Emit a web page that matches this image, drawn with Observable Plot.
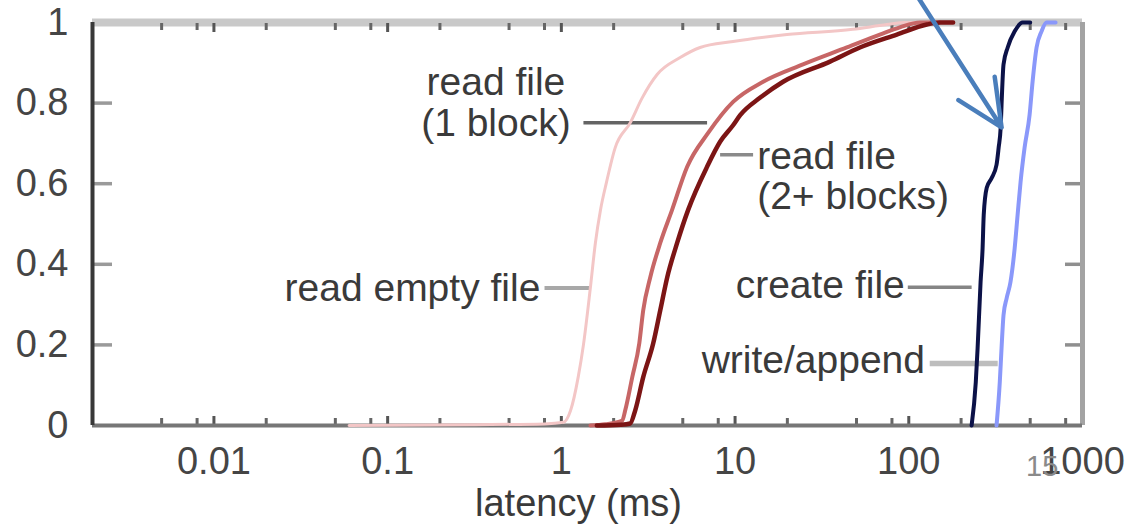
<!DOCTYPE html>
<html><head><meta charset="utf-8">
<script src="https://cdn.jsdelivr.net/npm/d3@7"></script>
<script src="https://cdn.jsdelivr.net/npm/@observablehq/plot@0.6"></script>
<style>
body{margin:0;background:#fff;}
#wrap{position:relative;width:1136px;height:525px;overflow:hidden;}
#page{position:absolute;left:1026px;top:452px;font:29px "Liberation Sans",Arial,sans-serif;color:#8a8a8a;line-height:1;}
</style></head><body><div id="wrap"><div id="chart"></div><div id="page">15</div></div>
<script>
// ---- data ----
const readEmptyLat = [0.06, 0.3, 0.8, 1.03, 1.13, 1.25, 1.34, 1.47, 1.57, 1.68, 1.82, 2.04, 2.49, 2.92, 3.56, 4.83, 6.29, 9.74, 19.9, 47.6, 74.8, 95, 110];
const readEmptyCdf = [0, 0.002, 0.004, 0.008, 0.037, 0.12, 0.20, 0.343, 0.453, 0.535, 0.604, 0.689, 0.751, 0.813, 0.871, 0.913, 0.938, 0.953, 0.970, 0.983, 0.995, 1, 1];

const read1Lat = [1.47, 1.79, 2.24, 2.33, 2.56, 2.81, 2.96, 3.25, 3.71, 4.34, 5.30, 7.00, 9.74, 14.5, 24.6, 44.0, 68.1, 88.8, 116, 150];
const read1Cdf = [0, 0.003, 0.012, 0.037, 0.12, 0.204, 0.286, 0.368, 0.453, 0.535, 0.642, 0.726, 0.803, 0.853, 0.896, 0.938, 0.970, 0.988, 1, 1];

const read2Lat = [1.6, 2.2, 2.49, 2.66, 2.96, 3.38, 3.71, 4.07, 4.64, 5.37, 6.90, 8.20, 9.74, 10.7, 13.9, 18.9, 35.2, 52.3, 85.3, 127, 151, 180];
const read2Cdf = [0, 0.002, 0.005, 0.037, 0.12, 0.204, 0.286, 0.368, 0.453, 0.535, 0.642, 0.704, 0.745, 0.77, 0.813, 0.853, 0.903, 0.938, 0.970, 0.995, 1, 1];

const createLat = [230, 243, 249, 259, 266, 270, 281, 300, 320, 329, 338, 342, 351, 371, 407, 452, 500];
const createCdf = [0, 0.107, 0.192, 0.356, 0.440, 0.522, 0.590, 0.614, 0.647, 0.689, 0.739, 0.796, 0.896, 0.938, 0.978, 1, 1];

const writeLat = [320, 334, 342, 351, 366, 385, 407, 423, 440, 464, 496, 516, 544, 581, 621, 700];
const writeCdf = [0, 0.107, 0.192, 0.274, 0.316, 0.356, 0.440, 0.522, 0.604, 0.689, 0.771, 0.853, 0.938, 0.978, 1, 1];

const xMajorTicks = [0.01, 0.1, 1, 10, 100, 1000];
const xMinorTicks = [0.005, 0.008, 0.02, 0.05, 0.08, 0.2, 0.5, 0.8, 2, 5, 8, 20, 50, 80, 200, 500, 800];
const yTicks = [0, 0.2, 0.4, 0.6, 0.8, 1];
const xDomain = [0.002, 1000];

const labelText = ["read file\n(1 block)", "read file\n(2+ blocks)", "read empty file", "create file", "write/append"];
const labelX = [0.42, 13.4, 0.757, 94.8, 124];
const labelY = [0.801, 0.618, 0.341, 0.348, 0.162];
const labelAnchor = ["middle", "start", "end", "end", "end"];

const leaderX1 = [1.34, 8.2, 0.80, 98.7, 132];
const leaderX2 = [6.9, 12.7, 1.47, 230, 325];
const leaderY = [0.751, 0.672, 0.341, 0.343, 0.154];

const arrowX1 = [114], arrowY1 = [1.06], arrowX2 = [342], arrowY2 = [0.74];

// ---- styles ----
const labelLineHeight = [1.03, 1.03, 1, 1, 1];
const leaderStyle = [
  {stroke: "#646464", w: 3.5},
  {stroke: "#8a8a8a", w: 3.5},
  {stroke: "#a8a8a8", w: 4},
  {stroke: "#858585", w: 3.5},
  {stroke: "#bdbdbd", w: 5.5}
];

const toPts = (xs, ys) => xs.map((x, i) => ({x, y: ys[i]}));
const series = [
  {pts: toPts(readEmptyLat, readEmptyCdf), stroke: "#f3c6c6", w: 3},
  {pts: toPts(read1Lat, read1Cdf), stroke: "#c76666", w: 4},
  {pts: toPts(read2Lat, read2Cdf), stroke: "#7c1515", w: 4.5},
  {pts: toPts(createLat, createCdf), stroke: "#0c1248", w: 4},
  {pts: toPts(writeLat, writeCdf), stroke: "#8a98fa", w: 4}
];
const labels = labelText.map((t, i) => ({t, x: labelX[i], y: labelY[i], a: labelAnchor[i], lh: labelLineHeight[i]}));
const leaders = leaderY.map((y, i) => ({x1: leaderX1[i], x2: leaderX2[i], y, ...leaderStyle[i]}));
const arrows = arrowX1.map((x, i) => ({x1: x, y1: arrowY1[i], x2: arrowX2[i], y2: arrowY2[i]}));

const FONT = "Liberation Sans, Arial, Helvetica, sans-serif";
const blank = () => "";

const chart = Plot.plot({
  width: 1136,
  height: 525,
  marginLeft: 92,
  marginRight: 54,
  marginTop: 22,
  marginBottom: 100,
  style: {fontFamily: FONT, background: "#fff", overflow: "visible"},
  x: {type: "log", domain: xDomain, axis: null},
  y: {domain: [0, 1], axis: null},
  marks: [
    // frame: top band
    Plot.ruleY([1], {stroke: "#c9c9c9", strokeWidth: 8}),
    // x ticks (inward) bottom & top
    Plot.axisX({anchor: "bottom", ticks: xMajorTicks, tickSize: 9, dy: -9, tickFormat: blank, stroke: "#555", strokeWidth: 3, label: null}),
    Plot.axisX({anchor: "bottom", ticks: xMinorTicks, tickSize: 7, dy: -7, tickFormat: blank, stroke: "#666", strokeWidth: 3, label: null}),
    Plot.axisX({anchor: "top", ticks: xMajorTicks, tickSize: 9, dy: 9, tickFormat: blank, stroke: "#555", strokeWidth: 3, label: null}),
    Plot.axisX({anchor: "top", ticks: xMinorTicks, tickSize: 7, dy: 7, tickFormat: blank, stroke: "#666", strokeWidth: 3, label: null}),
    // y ticks (inward) left & right
    Plot.axisY({anchor: "left", ticks: yTicks.slice(1, 5), tickSize: 20, dx: 20, tickFormat: blank, stroke: "#9a9a9a", strokeWidth: 3.5, label: null}),
    Plot.axisY({anchor: "right", ticks: yTicks.slice(1, 5), tickSize: 18, dx: -18, tickFormat: blank, stroke: "#8f8f8f", strokeWidth: 3.5, label: null}),
    // tick labels
    Plot.axisX({anchor: "bottom", ticks: xMajorTicks, tickSize: 0, tickPadding: 22, tickFormat: d => String(d), fontSize: 38, fill: "#454545", label: null}),
    Plot.axisY({anchor: "left", ticks: yTicks, tickSize: 0, tickPadding: 24, tickFormat: d => String(+d.toFixed(1)), fontSize: 38, fill: "#454545", label: null}),
    // other frame sides
    Plot.ruleX([xDomain[1]], {stroke: "#a3a3a3", strokeWidth: 5}),
    Plot.ruleY([0], {stroke: "#767676", strokeWidth: 4}),
    Plot.ruleX([xDomain[0]], {stroke: "#383838", strokeWidth: 4}),
    // leaders
    ...leaders.map(d => Plot.link([d], {x1: "x1", x2: "x2", y1: "y", y2: "y", stroke: d.stroke, strokeWidth: d.w})),
    // curves
    ...series.map(s => Plot.line(s.pts, {x: "x", y: "y", stroke: s.stroke, strokeWidth: s.w, curve: "monotone-x"})),
    // labels
    ...labels.map(d => Plot.text([d], {x: "x", y: "y", text: "t", textAnchor: d.a, fontSize: 39, lineHeight: d.lh, fill: "#3a3a3a"})),
    // axis title
    Plot.text(["latency (ms)"], {frameAnchor: "bottom", dy: 90, dx: -9, fontSize: 38, fill: "#3a3a3a"}),
    // annotation arrow
    Plot.arrow(arrows, {x1: "x1", y1: "y1", x2: "x2", y2: "y2", stroke: "#4a7ebb", strokeWidth: 4.5, headLength: 17, headAngle: 50})
  ]
});
document.getElementById("chart").appendChild(chart);
</script>
</body></html>
